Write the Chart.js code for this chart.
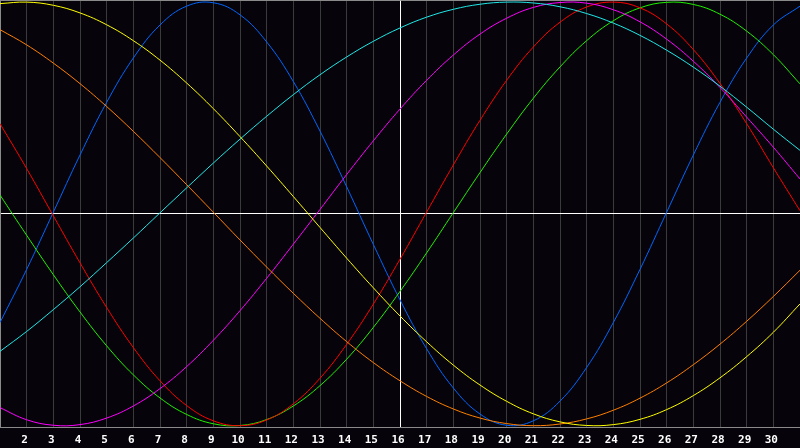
<!DOCTYPE html>
<html>
<head>
<meta charset="utf-8">
<title>Biorhythm</title>
<script src="https://cdn.jsdelivr.net/npm/chart.js@4.4.0/dist/chart.umd.min.js"></script>
<style>
    html, body { margin: 0; padding: 0; background: #06040a; }
    #wrap { width: 800px; height: 448px; position: relative; }
</style>
</head>
<body>
<div id="wrap"><canvas id="bioChart"></canvas></div>
<script>
// ==========================================
// 1. DATA (one value per day)
// ==========================================

const days = [1, 2, 3, 4, 5, 6, 7, 8, 9, 10, 11, 12, 13, 14, 15, 16,
              17, 18, 19, 20, 21, 22, 23, 24, 25, 26, 27, 28, 29, 30, 31];

// blue
const physical = [-51.3, -26.2, 0.8, 27.8, 52.7, 73.6, 89.2, 98.1, 99.7, 94.0, 81.2, 62.5, 39.1, 12.8, -14.4, -40.6,
                  -63.7, -82.2, -94.5, -99.8, -97.7, -88.4, -72.5, -51.3, -26.2, 0.8, 27.8, 52.7, 73.6, 89.2, 98.1];
// red
const emotional = [42.6, 21.4, -0.9, -23.1, -44.2, -63.1, -78.8, -90.5, -97.7, -100.0, -97.3, -89.7, -77.6, -61.6, -42.6, -21.4,
                   0.9, 23.1, 44.2, 63.1, 78.8, 90.5, 97.7, 100.0, 97.3, 89.7, 77.6, 61.6, 42.6, 21.8, 1.5];
// green
const intellectual = [8.9, -10.1, -28.7, -46.3, -62.3, -76.0, -86.9, -94.7, -99.1, -99.9, -97.1, -90.7, -81.1, -68.6, -53.6, -36.6,
                      -18.4, 0.6, 19.5, 37.7, 54.6, 69.4, 81.8, 91.2, 97.3, 99.9, 98.9, 94.3, 86.3, 75.2, 61.4];
// magenta
const intuitive = [-91.5, -97.2, -99.8, -99.5, -96.4, -90.7, -82.5, -72.1, -59.7, -45.7, -30.4, -14.3, 2.1, 18.6, 34.5, 49.5,
                   63.1, 75.0, 84.9, 92.4, 97.5, 99.8, 99.5, 96.4, 90.7, 82.5, 72.1, 59.7, 45.7, 31.5, 16.5];
// yellow
const aesthetic = [99.3, 100.0, 98.5, 94.9, 89.3, 81.8, 72.6, 61.8, 49.7, 36.5, 22.6, 8.2, -6.4, -20.9, -34.9, -48.2,
                   -60.4, -71.4, -80.8, -88.5, -94.4, -98.2, -99.9, -99.5, -97.0, -92.4, -85.8, -77.4, -67.4, -55.9, -42.5];
// orange
const awareness = [87.0, 79.8, 71.2, 61.5, 50.7, 39.0, 26.6, 13.8, 0.8, -12.3, -25.1, -37.5, -49.3, -60.3, -70.2, -78.8,
                   -86.2, -92.1, -96.4, -99.0, -100.0, -99.2, -96.8, -92.7, -87.0, -79.8, -71.2, -61.5, -50.7, -39.0, -26.6];
// cyan
const spiritual = [-64.9, -55.5, -45.2, -34.4, -23.0, -11.4, 0.5, 12.3, 24.0, 35.3, 46.1, 56.3, 65.7, 74.1, 81.5, 87.8,
                   92.9, 96.6, 99.0, 100.0, 99.6, 97.8, 94.6, 90.1, 84.3, 77.3, 69.3, 60.3, 50.4, 40.0, 30.0];

const hiddenDays = [1, 31];   // no label at the two edges
const markerDay = 16;         // the white vertical line

// ==========================================
// 2. BUILD DATASETS
// ==========================================

function series(label, values, color) {
    return {
        label: label,
        data: days.map((d, i) => ({ x: d, y: values[i] })),
        borderColor: color,
        borderWidth: 1,
        pointRadius: 0,
        tension: 0.4,
        fill: false
    };
}

const datasets = [
    series('Aesthetic', aesthetic, '#ffff00'),
    series('Awareness', awareness, '#ff7f00'),
    series('Spiritual', spiritual, '#20e8e8'),
    series('Intuitive', intuitive, '#ff00ff'),
    series('Emotional', emotional, '#ff0000'),
    series('Intellectual', intellectual, '#20f000'),
    series('Physical', physical, '#0066ff')
];

// ==========================================
// 3. DRAW THE CHART
// ==========================================

const ctx = document.getElementById('bioChart').getContext('2d');

new Chart(ctx, {
    type: 'line',
    data: { datasets: datasets },
    options: {
        responsive: true,
        maintainAspectRatio: false,
        animation: false,
        devicePixelRatio: 1,
        layout: { padding: { left: 0, right: 0, top: 0, bottom: 1 } },
        plugins: {
            legend: { display: false },
            tooltip: { enabled: false }
        },
        scales: {
            x: {
                type: 'linear',
                min: 1,
                max: 31,
                grid: {
                    drawTicks: true,
                    tickLength: 6,
                    tickColor: 'transparent',
                    lineWidth: 1,
                    color: function(c) {
                        return c.tick && c.tick.value === markerDay ? '#ffffff' : '#3a3a3a';
                    }
                },
                border: { display: true, color: '#8a8a8a', width: 1 },
                ticks: {
                    stepSize: 1,
                    autoSkip: false,
                    maxRotation: 0,
                    padding: 0,
                    labelOffset: -2,
                    color: '#ffffff',
                    font: { family: 'DejaVu Sans Mono', size: 11, weight: 'bold' },
                    callback: function(value) {
                        return hiddenDays.includes(value) ? '' : String(value);
                    }
                }
            },
            y: {
                min: -101,
                max: 101,
                grid: {
                    drawTicks: false,
                    color: function(c) {
                        if (!c.tick) return 'transparent';
                        if (c.tick.value === 0) return '#ffffff';
                        return '#8a8a8a';
                    }
                },
                border: { display: true, color: '#8a8a8a', width: 1 },
                ticks: { display: false, stepSize: 101 }
            }
        }
    }
});
</script>
</body>
</html>
